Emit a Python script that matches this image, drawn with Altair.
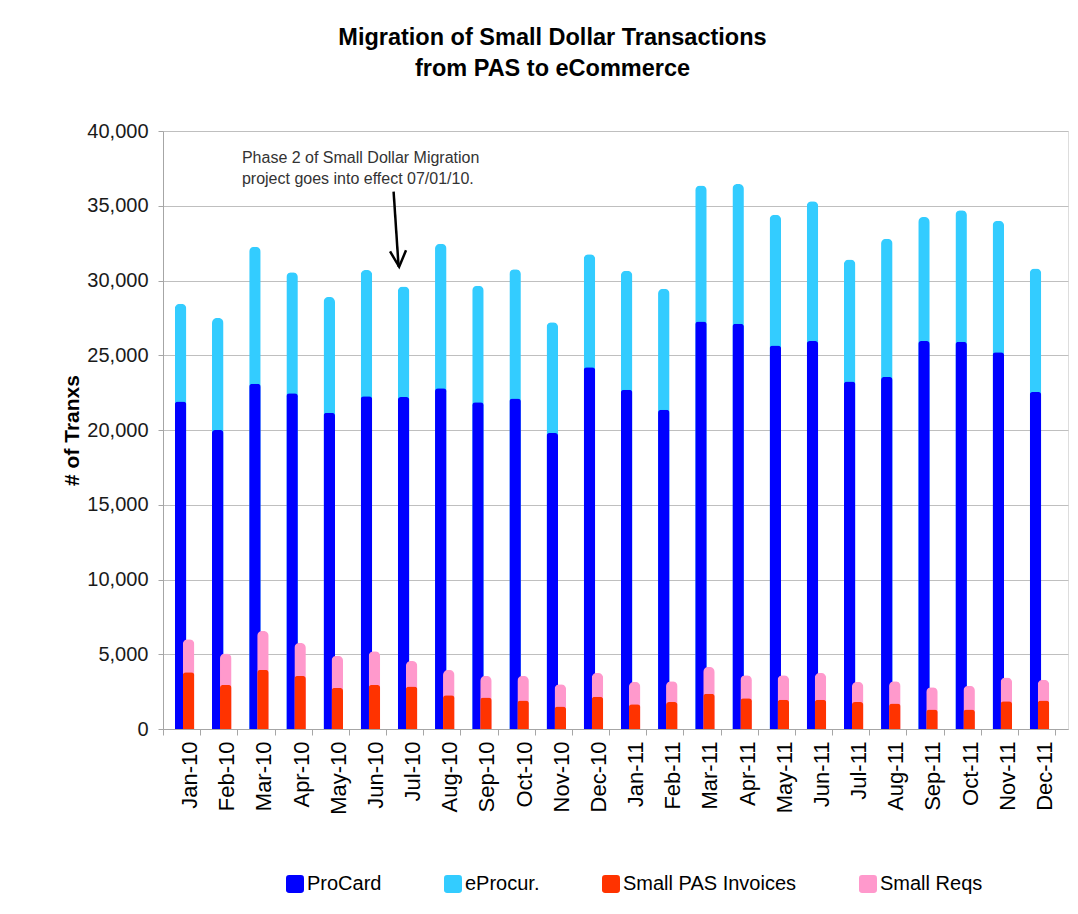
import altair as alt
import pandas as pd

# ---- data ----
months = ["Jan-10", "Feb-10", "Mar-10", "Apr-10", "May-10", "Jun-10",
          "Jul-10", "Aug-10", "Sep-10", "Oct-10", "Nov-10", "Dec-10",
          "Jan-11", "Feb-11", "Mar-11", "Apr-11", "May-11", "Jun-11",
          "Jul-11", "Aug-11", "Sep-11", "Oct-11", "Nov-11", "Dec-11"]
procard = [21900, 20000, 23100, 22450, 21150, 22250, 22200, 22800, 21850, 22100, 19800, 24200,
           22700, 21350, 27250, 27100, 25650, 25950, 23250, 23550, 25950, 25900, 25200, 22550]
eprocur = [6550, 7500, 9150, 8100, 7750, 8450, 7400, 9650, 7800, 8650, 7400, 7550,
           7950, 8100, 9100, 9350, 8750, 9350, 8150, 9250, 8300, 8800, 8800, 8250]
small_pas = [3800, 2950, 3950, 3550, 2750, 2950, 2850, 2250, 2100, 1900, 1500, 2150,
             1650, 1800, 2350, 2050, 1950, 1950, 1800, 1700, 1300, 1300, 1850, 1900]
small_reqs = [2200, 2100, 2600, 2200, 2150, 2250, 1700, 1700, 1450, 1650, 1500, 1600,
              1500, 1400, 1800, 1550, 1650, 1800, 1350, 1500, 1500, 1600, 1600, 1400]

series_names = ["ProCard", "eProcur.", "Small PAS Invoices", "Small Reqs"]
series_colors = ["#0000FF", "#33CCFF", "#FF3300", "#FF99CC"]

title_lines = ["Migration of Small Dollar Transactions", "from PAS to eCommerce"]
y_title = "# of Tranxs"
y_ticks = [0, 5000, 10000, 15000, 20000, 25000, 30000, 35000, 40000]

note_lines = ["Phase 2 of Small Dollar Migration", "project goes into effect 07/01/10."]
note_month = "Mar-10"
note_y = [37860, 36455]
arrow_month = "Jul-10"
arrow_y = [35940, 30920]
arrow_head_y = [31450]

# ---- tables built from the arrays ----
rows = []
for i, m in enumerate(months):
    rows.append(dict(month=m, series="eProcur.", top=procard[i] + eprocur[i], value=eprocur[i]))
    rows.append(dict(month=m, series="ProCard", top=procard[i], value=procard[i]))
    rows.append(dict(month=m, series="Small Reqs", top=small_pas[i] + small_reqs[i], value=small_reqs[i]))
    rows.append(dict(month=m, series="Small PAS Invoices", top=small_pas[i], value=small_pas[i]))
df = pd.DataFrame(rows)

note_df = pd.DataFrame({"month": [note_month] * 2, "top": note_y, "text": note_lines})
arrow_df = pd.DataFrame({"month": [arrow_month], "month2": [arrow_month],
                         "top": [arrow_y[0]], "top2": [arrow_y[1]]})
head_df = pd.DataFrame({"month": [arrow_month], "top": arrow_head_y})

FONT = "Liberation Sans"
GRAY = "#a6a6a6"

x_scale = alt.Scale(domain=months, paddingInner=0, paddingOuter=0.174, align=0)
y_scale = alt.Scale(domain=[0, 40000])

x_axis = alt.Axis(title=None, labelAngle=270, labelFont=FONT, labelFontSize=22,
                  labelColor="#000000", labelPadding=6, labelOffset=8,
                  tickSize=6, tickColor=GRAY, domainColor=GRAY, tickBand="extent",
                  grid=False, labelLimit=200)
y_axis = alt.Axis(title=y_title, titleFont=FONT, titleFontSize=21, titleFontWeight="bold",
                  titleColor="#000000", titlePadding=4, values=y_ticks, format=",.0f",
                  labelFont=FONT, labelFontSize=20, labelColor="#1a1a1a",
                  labelPadding=10, tickSize=5, tickColor=GRAY, domainColor=GRAY,
                  gridColor="#bfbfbf", gridWidth=1)

x_enc = alt.X("month:N", sort=months, scale=x_scale, axis=x_axis)
y_enc = alt.Y("top:Q", scale=y_scale, axis=y_axis)

rounded_square = "M-1,-0.65Q-1,-1,-0.65,-1L0.65,-1Q1,-1,1,-0.65L1,0.65Q1,1,0.65,1L-0.65,1Q-1,1,-1,0.65Z"
color_enc = alt.Color("series:N",
                      scale=alt.Scale(domain=series_names, range=series_colors),
                      legend=alt.Legend(title=None, orient="none", legendX=122, legendY=743,
                                        direction="horizontal", symbolType=rounded_square,
                                        symbolSize=324, symbolStrokeWidth=0, symbolOpacity=1,
                                        labelFont=FONT, labelFontSize=20, labelColor="#000000",
                                        labelOffset=2, columnPadding=61, padding=0,
                                        labelLimit=400))


def bars(series, offset, radius):
    return alt.Chart(df).transform_filter(alt.datum.series == series).mark_bar(
        width=11.5, xOffset=offset, cornerRadiusTopLeft=radius, cornerRadiusTopRight=radius
    ).encode(x=x_enc, y=y_enc, color=color_enc,
             tooltip=["month:N", "series:N", alt.Tooltip("value:Q", format=",")])


layer_bars = [
    bars("eProcur.", -1, 5),
    bars("ProCard", -1, 3),
    bars("Small Reqs", 7, 5),
    bars("Small PAS Invoices", 7, 3),
]

note = alt.Chart(note_df).mark_text(
    align="left", baseline="alphabetic", dx=-14, font=FONT, fontSize=16, color="#333333"
).encode(x=x_enc, y=y_enc, text="text:N")

arrow = alt.Chart(arrow_df).mark_rule(
    xOffset=-11, x2Offset=-6, strokeWidth=2.5, color="#000000"
).encode(x=x_enc, x2="month2:N", y=y_enc, y2="top2:Q")

head = alt.Chart(head_df).mark_point(
    shape="M-1,-1L0,1L1,-1", filled=False, size=256, strokeWidth=2.5, color="#000000",
    angle=356, xOffset=-6, opacity=1
).encode(x=x_enc, y=y_enc)

chart = alt.layer(*layer_bars, note, arrow, head).properties(
    width=905, height=598,
    title=alt.TitleParams(text=title_lines, font=FONT, fontSize=23.5, fontWeight="bold",
                          color="#000000", anchor="middle", frame="group", dx=-63,
                          offset=41, lineHeight=31),
    autosize=alt.AutoSizeParams(type="none"),
    padding={"left": 155, "top": 123, "right": 2, "bottom": 170},
).configure_view(stroke=None).configure(background="white")

chart.save("out.html", embed_options={"renderer": "svg", "actions": False})
